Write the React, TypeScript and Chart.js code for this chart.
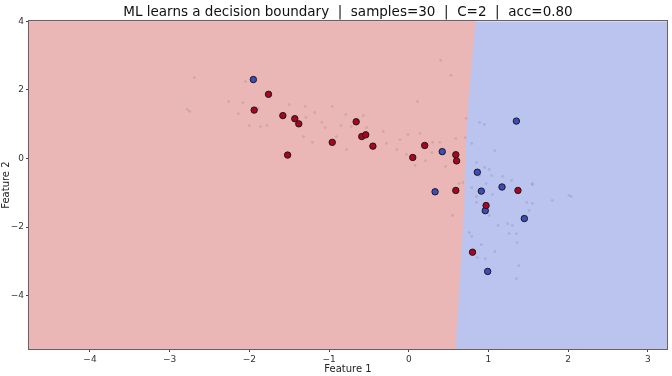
import { useEffect, useRef } from 'react';
import { Chart, registerables } from 'chart.js';

Chart.register(...registerables);

const FONT = '"DejaVu Sans", "Liberation Sans", sans-serif';
const titleText = 'ML learns a decision boundary  |  samples=30  |  C=2  |  acc=0.80';
const xTitle = 'Feature 1';
const yTitle = 'Feature 2';

const xTicks = [-4, -3, -2, -1, 0, 1, 2, 3];
const yTicks = [-4, -2, 0, 2, 4];
const xRange = [-4.765, 3.24];
const yRange = [-5.55, 4.0];

// decision boundary (x position as a function of y)
const boundaryX = [0.84, 0.8, 0.75, 0.72, 0.7, 0.64, 0.59];
const boundaryY = [4.0, 3.0, 1.7, 0.5, -1.2, -3.6, -5.55];

const redX = [-1.76, -1.94, -1.58, -1.43, -1.38, -1.52, -0.66, -0.96, -0.59, -0.54, -0.45, 0.2, 0.05, 0.59, 0.6, 0.59, 1.37, 0.97, 0.8];
const redY = [1.87, 1.41, 1.25, 1.16, 1.01, 0.1, 1.07, 0.47, 0.64, 0.69, 0.36, 0.38, 0.03, 0.11, -0.07, -0.93, -0.93, -1.37, -2.73];

const blueX = [-1.95, 0.42, 0.33, 1.35, 0.86, 0.91, 1.17, 0.96, 1.45, 0.99];
const blueY = [2.3, 0.2, -0.97, 1.09, -0.4, -0.95, -0.83, -1.52, -1.75, -3.29];

const faintX = [-2.69, -2.05, -2.26, -2.08, -2.14, -2.75, -2.0, -1.86, -1.78, -1.5, -1.3, -1.32, -1.89, -2.78,
  -0.96, -1.18, -1.29, -0.79, -0.57, -1.09, -1.05, -0.85, -0.72, -0.53, -1.21, -0.91, -0.32, -0.28, -0.11, -0.01,
  0.11, -0.78, -0.15, -0.03, 0.21, 0.08, 0.29, 0.14,
  0.72, 0.89, 0.95, 0.79, 0.71, 0.59, 0.39, 0.3, 1.08, 0.85, 0.46, 0.95, 1.01, 0.89, 1.04, 1.18, 0.97, 0.68, 0.63,
  0.79, 1.29, 1.55, 1.05, 0.85,
  0.55, 0.76, 0.79, 0.85, 1.01, 1.12, 1.24, 1.3, 1.26, 1.35, 1.48, 1.55, 1.51, 1.36, 0.91, 1.08, 0.96, 0.86, 1.38,
  1.35, 1.8, 2.04, 2.01, 1.55, 0.4, 0.53];
const faintY = [2.36, 2.24, 1.66, 1.63, 1.31, 1.37, 0.96, 0.93, 0.96, 1.57, 1.52, 0.64, 1.46, 1.43,
  1.52, 1.34, 1.2, 1.28, 1.25, 1.05, 0.9, 0.96, 0.93, 0.9, 0.47, 0.64, 0.79, 0.44, 0.55, 0.7,
  1.66, 0.26, 0.26, 0.12, -0.06, -0.2, 0.17, 0.73,
  1.17, 1.05, 0.99, 0.44, 0.61, 0.58, 0.47, 0.47, 0.23, -0.12, -0.23, -0.26, -0.32, -0.5, -0.5, -0.52, -0.73, -0.7, -0.73,
  -0.85, -0.64, -0.73, -1.05, -1.11,
  -1.66, -2.16, -2.27, -1.28, -1.66, -1.95, -1.9, -1.95, -2.19, -2.19, -1.28, -1.31, -1.52, -2.45, -2.51, -2.71, -2.92, -2.89, -3.12,
  -3.5, -1.22, -1.11, -1.08, -0.76, 2.86, 2.42];

const redRegion = 'rgb(234,183,182)';
const blueRegion = 'rgb(186,196,238)';

const pts = (xs: number[], ys: number[]) => xs.map((x, i) => ({ x, y: ys[i] }));
const fmt = (v: number) => (v < 0 ? '\u2212' + Math.abs(v) : String(v));

const regionPlugin = {
  id: 'regions',
  beforeDraw(chart: any) {
    const { ctx, chartArea: a, scales } = chart;
    const sx = scales.x, sy = scales.y;
    const bpts = boundaryX.map((bx, i) => [sx.getPixelForValue(bx), sy.getPixelForValue(boundaryY[i])]);
    ctx.save();
    ctx.beginPath();
    ctx.rect(a.left, a.top, a.right - a.left, a.bottom - a.top);
    ctx.clip();
    ctx.fillStyle = blueRegion;
    ctx.fillRect(a.left, a.top, a.right - a.left, a.bottom - a.top);
    ctx.beginPath();
    ctx.moveTo(a.left, a.top - 2);
    ctx.lineTo(bpts[0][0], a.top - 2);
    bpts.forEach(([px, py]) => ctx.lineTo(px, py));
    ctx.lineTo(bpts[bpts.length - 1][0], a.bottom + 2);
    ctx.lineTo(a.left, a.bottom + 2);
    ctx.closePath();
    ctx.fillStyle = redRegion;
    ctx.fill();
    ctx.restore();
  },
  afterDraw(chart: any) {
    const { ctx, chartArea: a } = chart;
    ctx.save();
    ctx.strokeStyle = '#6b5f66';
    ctx.lineWidth = 1;
    ctx.strokeRect(Math.round(a.left) - 0.5, Math.round(a.top) - 0.5, Math.round(a.right - a.left) + 1, Math.round(a.bottom - a.top) + 1);
    ctx.restore();
  },
};

export default function App() {
  const ref = useRef<HTMLCanvasElement>(null);
  useEffect(() => {
    document.body.style.margin = '0';
    const chart = new Chart(ref.current as HTMLCanvasElement, {
      type: 'scatter',
      data: {
        datasets: [
          {
            label: 'class 0',
            data: pts(redX, redY),
            backgroundColor: '#ad0322',
            borderColor: '#1a1a1a',
            borderWidth: 1,
            pointRadius: 3.2,
            order: 1,
          },
          {
            label: 'class 1',
            data: pts(blueX, blueY),
            backgroundColor: '#3b4cc0',
            borderColor: '#1a1a1a',
            borderWidth: 1,
            pointRadius: 3.2,
            order: 1,
          },
          {
            label: 'samples',
            data: pts(faintX, faintY),
            backgroundColor: 'rgba(110,95,120,0.2)',
            borderWidth: 0,
            pointRadius: 1.4,
            order: 5,
          },
        ],
      },
      options: {
        animation: false,
        responsive: true,
        maintainAspectRatio: false,
        layout: { padding: { left: 0, right: 5, top: 0, bottom: 0 } },
        plugins: {
          legend: { display: false },
          tooltip: { enabled: false },
          title: {
            display: true,
            text: titleText,
            fullSize: false,
            color: '#111',
            font: { size: 13.5, family: FONT, weight: 'normal', lineHeight: 1.2 },
            padding: { top: 4, bottom: 1 },
          },
        },
        scales: {
          x: {
            type: 'linear',
            min: xRange[0],
            max: xRange[1],
            afterBuildTicks: (s: any) => { s.ticks = xTicks.map((v) => ({ value: v })); },
            afterFit: (s: any) => { s.height = 27; },
            ticks: {
              callback: (v: any) => fmt(Number(v)),
              font: { size: 9, family: FONT },
              color: '#333',
              padding: 2,
              maxRotation: 0,
              autoSkip: false,
            },
            grid: { drawOnChartArea: false, drawTicks: true, tickLength: 3, color: '#444' },
            border: { display: false },
            title: { display: true, text: xTitle, color: '#222', font: { size: 10, family: FONT }, padding: { top: 0, bottom: 1 } },
          },
          y: {
            type: 'linear',
            min: yRange[0],
            max: yRange[1],
            afterBuildTicks: (s: any) => { s.ticks = yTicks.map((v) => ({ value: v })); },
            afterFit: (s: any) => { s.width = 29; },
            ticks: {
              callback: (v: any) => fmt(Number(v)),
              font: { size: 9, family: FONT },
              color: '#333',
              padding: 2,
              autoSkip: false,
            },
            grid: { drawOnChartArea: false, drawTicks: true, tickLength: 3, color: '#444' },
            border: { display: false },
            title: { display: true, text: yTitle, color: '#222', font: { size: 10, family: FONT }, padding: { top: 0, bottom: 0 } },
          },
        },
      },
      plugins: [regionPlugin],
    } as any);
    return () => chart.destroy();
  }, []);
  return (
    <div style={{ width: 672, height: 376, position: 'relative' }}>
      <canvas ref={ref} />
    </div>
  );
}
